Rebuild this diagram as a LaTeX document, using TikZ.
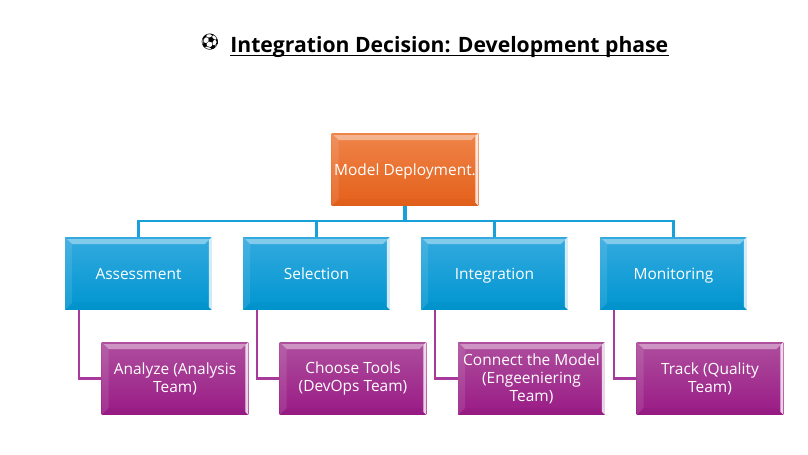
\documentclass[tikz,border=0pt]{standalone}
\usepackage{fontspec}
\setmainfont{Open Sans}
\newfontfamily\emojifont{Noto Emoji}
\usetikzlibrary{calc}
\definecolor{orangetop}{HTML}{EF8449}
\definecolor{orangelow}{HTML}{E4601A}
\definecolor{bluetop}{HTML}{33AADF}
\definecolor{bluelow}{HTML}{0095D0}
\definecolor{purpletop}{HTML}{AE4F9E}
\definecolor{purplelow}{HTML}{991A85}
\definecolor{busblue}{HTML}{1AA0D8}
\definecolor{buspurple}{HTML}{A83A9E}
\tikzset{
    bevel/.style={path picture={
        \coordinate (nw) at (path picture bounding box.north west);
        \coordinate (ne) at (path picture bounding box.north east);
        \coordinate (sw) at (path picture bounding box.south west);
        \coordinate (se) at (path picture bounding box.south east);
        \fill[white,opacity=.4] ($(nw)+(2,2)$) -- ($(ne)+(-2,2)$) -- ($(ne)+(-7,7)$) -- ($(nw)+(7,7)$) -- cycle;
        \fill[white,opacity=.1] (nw) -- ($(nw)+(7,7)$) -- ($(sw)+(7,-7)$) -- (sw) -- cycle;
        \fill[black,opacity=.02] (sw) -- ($(sw)+(7,-7)$) -- ($(se)+(-7,-7)$) -- (se) -- cycle;
        \fill[white,opacity=.8] ($(ne)+(-3,3)$) -- (ne) -- (se) -- ($(se)+(-3,-3)$) -- cycle;
    }},
    card/.style={minimum width=2.94cm,minimum height=1.46cm,inner sep=0pt,align=center,
        text=white,font=\fontsize{8.8}{10.2}\selectfont,bevel},
    rootcard/.style={card,top color=orangetop,bottom color=orangelow,text height=8.5pt,text depth=2.1pt},
    teamcard/.style={card,top color=bluetop,bottom color=bluelow,text height=8.5pt,text depth=2.1pt},
    taskcard/.style={card,top color=purpletop,bottom color=purplelow},
    bus/.style={busblue,line width=1.25pt},
    link/.style={buspurple,line width=1.25pt},
}
\begin{document}
\begin{tikzpicture}[x=0.02cm,y=-0.02cm]
    \useasboundingbox (0,0) rectangle (808,455);
    % title
    \node (ball) at (210,42.5) {\emojifont\fontsize{9}{11}\selectfont ⚽};
    \node[anchor=base west,inner sep=0pt,font=\fontsize{12.05}{14}\selectfont\bfseries] (title) at (230,53)
        {Integration Decision: Development phase};
    \draw[line width=1pt] ([yshift=-1.4pt]title.base west) -- ([yshift=-1.4pt]title.base east);
    % boxes
    \node[rootcard] (deploy) at (405,169.5) {Model Deployment.};
    \node[teamcard] (assess) at (138.5,273.5) {Assessment};
    \node[teamcard] (select) at (316.5,273.5) {Selection};
    \node[teamcard] (integr) at (494.5,273.5) {Integration};
    \node[teamcard] (monit) at (673.5,273.5) {Monitoring};
    \node[taskcard] (analyze) at (175,378.5) {Analyze (Analysis\\Team)};
    \node[taskcard] (choose) at (353,378.5) {Choose Tools\\(DevOps Team)};
    \node[taskcard] (connect) at (531.5,378.5) {Connect the Model\\(Engeeniering\\Team)};
    \node[taskcard] (track) at (710,378.5) {Track (Quality\\Team)};
    % connectors
    \draw[bus] (deploy.south) -- ++(0,15) -| (assess.north);
    \draw[bus] (deploy.south) -- ++(0,15) -| (select.north);
    \draw[bus] (deploy.south) -- ++(0,15) -| (integr.north);
    \draw[bus] (deploy.south) -- ++(0,15) -| (monit.north);
    \draw[line width=2pt,busblue] (deploy.south) -- ++(0,15);
    \draw[link] ([xshift=14*0.02cm]assess.south west) |- (analyze.west);
    \draw[link] ([xshift=14*0.02cm]select.south west) |- (choose.west);
    \draw[link] ([xshift=14*0.02cm]integr.south west) |- (connect.west);
    \draw[link] ([xshift=14*0.02cm]monit.south west) |- (track.west);
\end{tikzpicture}
\end{document}
